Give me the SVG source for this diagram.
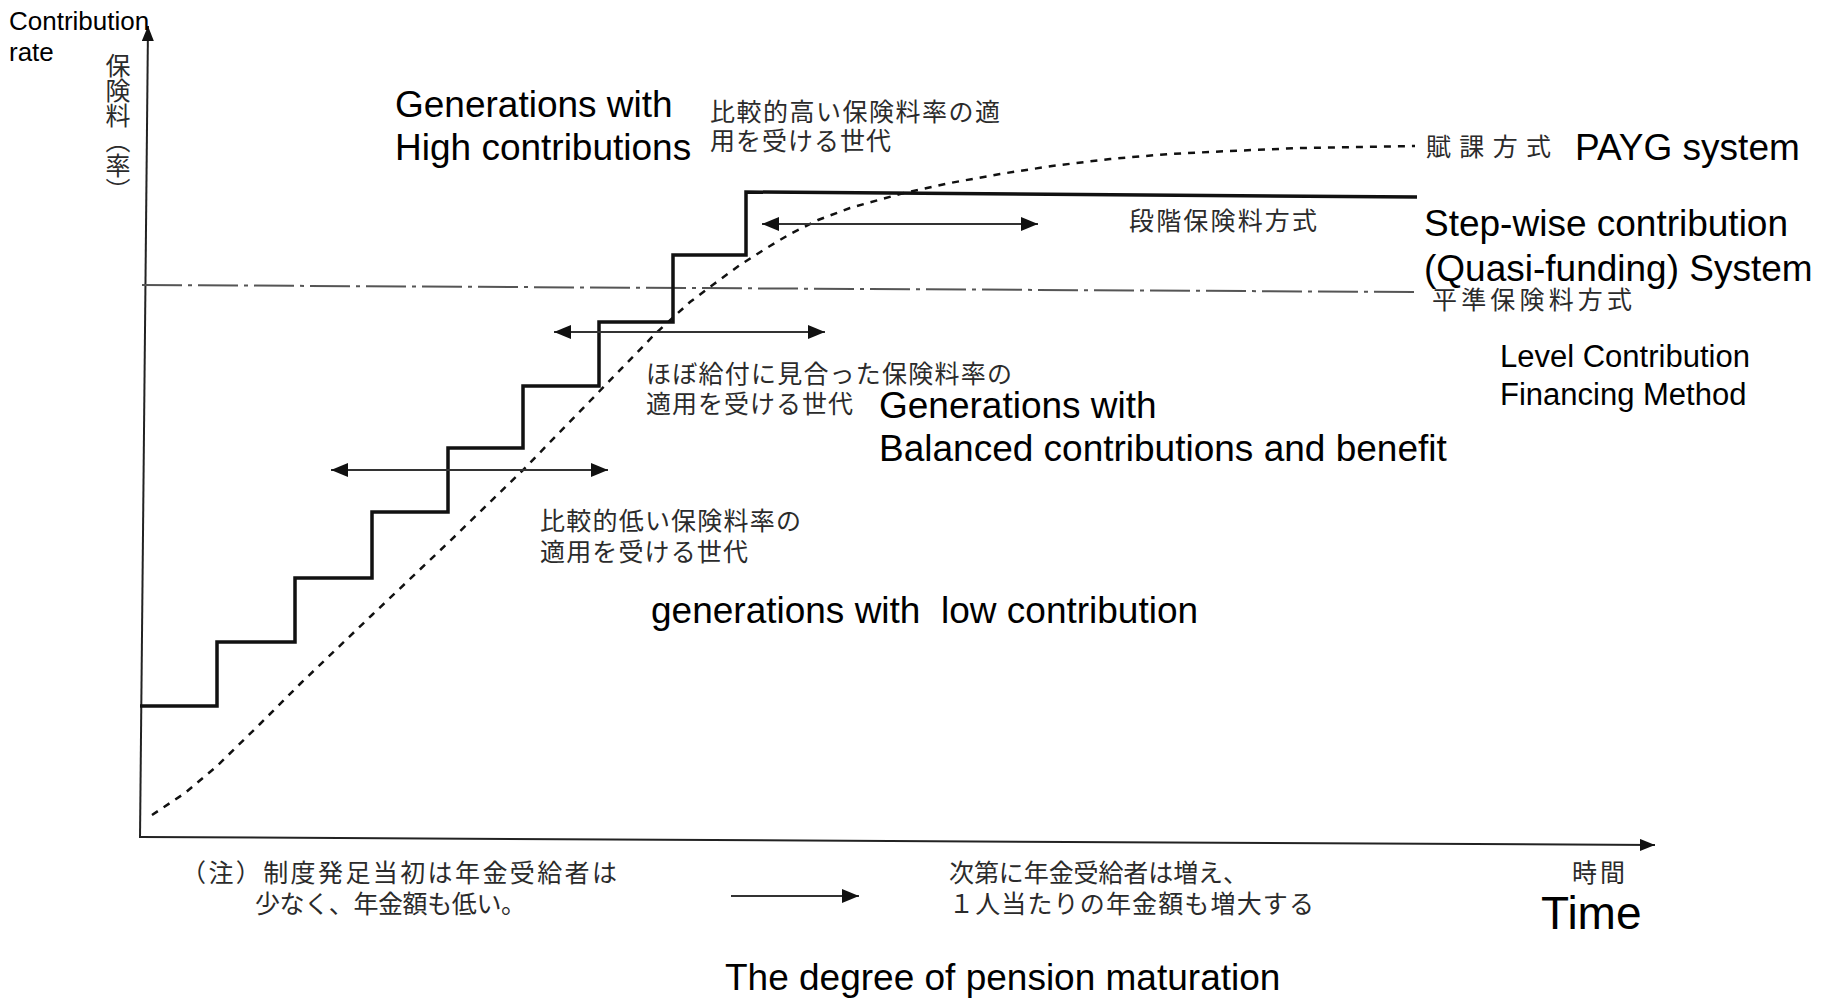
<svg xmlns="http://www.w3.org/2000/svg" width="1833" height="1001" viewBox="0 0 1833 1001">
<style>
.en{font-family:"Liberation Sans",Arial,sans-serif;fill:#000;}
.jp{font-family:"Noto Sans CJK JP","Noto Sans CJK SC",sans-serif;fill:#2b2b2b;font-size:25px;}
.ax{stroke:#222;stroke-width:2;fill:none;}
.dbl{stroke:#333;stroke-width:1.8;fill:none;marker-start:url(#ah);marker-end:url(#ah);}
</style>
<defs>
<marker id="ah" markerUnits="userSpaceOnUse" markerWidth="18" markerHeight="14" refX="17" refY="7" orient="auto-start-reverse">
<path d="M0,0 L17,7 L0,14 z" fill="#111"/>
</marker>
<marker id="axh" markerUnits="userSpaceOnUse" markerWidth="16" markerHeight="12" refX="15" refY="6" orient="auto">
<path d="M0,0 L15,6 L0,12 z" fill="#111"/>
</marker>
</defs>
<rect width="1833" height="1001" fill="#fff"/>

<g id="connectors">
<line id="y-axis" class="ax" x1="140" y1="838" x2="148" y2="26" marker-end="url(#axh)"/>
<line id="x-axis" class="ax" x1="140" y1="837" x2="1655" y2="845" stroke-width="2.5" marker-end="url(#axh)"/>
<path id="level-line" d="M142,285 L1415,292" stroke="#555" stroke-width="2" fill="none" stroke-dasharray="40 6 4 6"/>
<path id="payg-curve" d="M152,815 L185,793 L217,766 L260,724 L300,684 L372,615 L450,541 L523,470 L590,401 L655,334 L690,302 L714,284 L740,265 L765,249 L790,234 L818,220 L850,208 L900,194 L950,183 L1000,174 L1052,166 L1110,159 L1169,154 L1230,151 L1300,148 L1415,146" stroke="#111" stroke-width="2.5" fill="none" stroke-dasharray="7 7"/>
<path id="step-line" d="M140,706 L217,706 L217,642 L295,642 L295,578 L372,578 L372,512 L448,512 L448,448 L523,448 L523,386 L599,386 L599,322 L673,322 L673,255 L746,255 L746,192 L1417,197" stroke="#111" stroke-width="3.5" fill="none"/>
<line id="arrow-low" class="dbl" x1="331" y1="470" x2="608" y2="470"/>
<line id="arrow-mid" class="dbl" x1="554" y1="332" x2="825" y2="332"/>
<line id="arrow-high" class="dbl" x1="762" y1="224" x2="1038" y2="224"/>
<line id="arrow-note" stroke="#333" stroke-width="2" x1="731" y1="896" x2="859" y2="896" marker-end="url(#ah)"/>
</g>

<g id="axis-label-y">
<text class="en" x="9" y="30" font-size="26">Contribution</text>
<text class="en" x="9" y="61" font-size="26">rate</text>
<text class="jp" x="118" y="53" writing-mode="tb" font-size="27">保険料（率）</text>
</g>

<g id="high-generations">
<text class="en" x="395" y="117" font-size="37">Generations with</text>
<text class="en" x="395" y="160" font-size="37">High contributions</text>
<text class="jp" x="710" y="121" textLength="290" lengthAdjust="spacing">比較的高い保険料率の適</text>
<text class="jp" x="710" y="150" textLength="181" lengthAdjust="spacing">用を受ける世代</text>
</g>

<g id="payg">
<text class="jp" x="1426" y="156" textLength="125" lengthAdjust="spacing">賦課方式</text>
<text class="en" x="1575" y="160" font-size="37">PAYG system</text>
</g>

<g id="stepwise">
<text class="jp" x="1129" y="230" textLength="188" lengthAdjust="spacing">段階保険料方式</text>
<text class="en" x="1424" y="236" font-size="37">Step-wise contribution</text>
<text class="en" x="1424" y="281" font-size="37">(Quasi-funding) System</text>
</g>

<g id="level">
<text class="jp" x="1432" y="309" textLength="200" lengthAdjust="spacing">平準保険料方式</text>
<text class="en" x="1500" y="367" font-size="31">Level Contribution</text>
<text class="en" x="1500" y="405" font-size="31">Financing Method</text>
</g>

<g id="balanced-generations">
<text class="jp" x="646" y="383" textLength="366" lengthAdjust="spacing">ほぼ給付に見合った保険料率の</text>
<text class="jp" x="646" y="413" textLength="207" lengthAdjust="spacing">適用を受ける世代</text>
<text class="en" x="879" y="418" font-size="37">Generations with</text>
<text class="en" x="879" y="461" font-size="37">Balanced contributions and benefit</text>
</g>

<g id="low-generations">
<text class="jp" x="540" y="530" textLength="261" lengthAdjust="spacing">比較的低い保険料率の</text>
<text class="jp" x="540" y="561" textLength="208" lengthAdjust="spacing">適用を受ける世代</text>
<text class="en" x="651" y="623" font-size="37" xml:space="preserve">generations with  low contribution</text>
</g>

<g id="note">
<text class="jp" x="181" y="882" textLength="436" lengthAdjust="spacing">（注）制度発足当初は年金受給者は</text>
<text class="jp" x="255" y="913" textLength="271" lengthAdjust="spacing">少なく、年金額も低い。</text>
<text class="jp" x="949" y="882" textLength="299" lengthAdjust="spacing">次第に年金受給者は増え、</text>
<text class="jp" x="949" y="913" textLength="365" lengthAdjust="spacing">１人当たりの年金額も増大する</text>
</g>

<g id="axis-label-x">
<text class="jp" x="1572" y="882" textLength="53" lengthAdjust="spacing">時間</text>
<text class="en" x="1541" y="929" font-size="46">Time</text>
<text class="en" x="725" y="990" font-size="37">The degree of pension maturation</text>
</g>
</svg>
